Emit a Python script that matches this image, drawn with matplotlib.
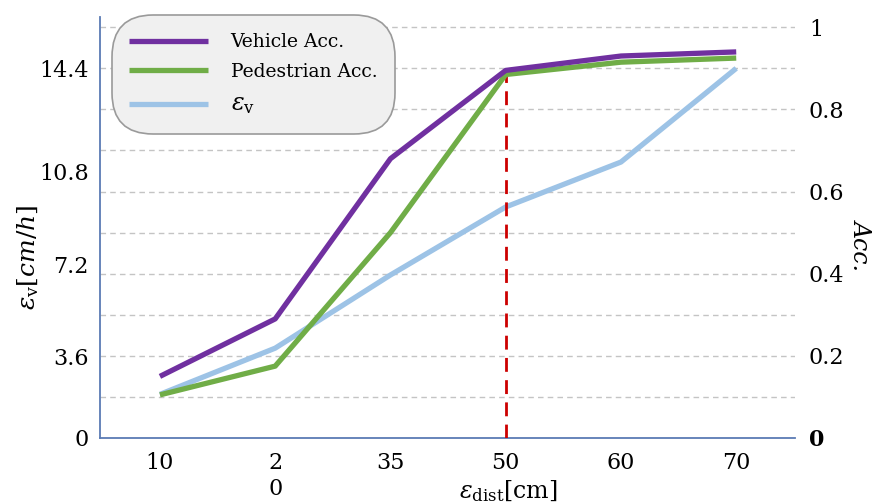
import numpy as np
import matplotlib
matplotlib.use("Agg")
import matplotlib.pyplot as plt
from matplotlib.transforms import ScaledTranslation

plt.rcParams['font.family'] = ['DejaVu Serif']
plt.rcParams['mathtext.fontset'] = 'dejavuserif'

# ---- data ----
dist_labels = ["10", "2\n0", "35", "50", "60", "70"]
vehicle_acc = [0.15, 0.29, 0.68, 0.895, 0.93, 0.94]
pedestrian_acc = [0.105, 0.175, 0.50, 0.885, 0.915, 0.925]
eps_v = [1.7, 3.5, 6.35, 9.0, 10.75, 14.4]
left_ticks = [0, 3.6, 7.2, 10.8, 14.4]
left_ticklabels = ["0", "3.6", "7.2", "10.8", "14.4"]
right_ticks = [0, 0.2, 0.4, 0.6, 0.8, 1.0]
right_ticklabels = ["0", "0.2", "0.4", "0.6", "0.8", "1"]
grid_vals = [0.1, 0.2, 0.3, 0.4, 0.5, 0.6, 0.7, 0.8, 0.9, 1.0]
marked_index = 3

C_VEH = "#7030a0"
C_PED = "#70ad47"
C_EPS = "#9dc3e6"
C_RED = "#cc0000"
C_SPINE = "#5b7bb4"

fig = plt.figure(figsize=(8.78, 5.04), dpi=100)
ax = fig.add_axes([100/878, 66/504, 695/878, 421/504])
ax2 = ax.twinx()

x = np.arange(len(dist_labels))
ratio = 16.0
ax2.set_ylim(0, 1.025)
ax.set_ylim(0, 1.025 * ratio)
ax.set_xlim(-0.52, 5.51)

# grid (drawn on left axis so it stays beneath all lines)
for g in grid_vals:
    ax.axhline(g * ratio, color="#c4c4c4", lw=1.0, ls=(0, (4, 3)), zorder=0)

l3, = ax.plot(x, eps_v, color=C_EPS, lw=3.8, solid_capstyle="butt", zorder=3)
ax2.vlines(x[marked_index], 0, vehicle_acc[marked_index], colors=C_RED,
           lw=2.0, linestyles=(0, (5, 3)), zorder=2)
l2, = ax2.plot(x, pedestrian_acc, color=C_PED, lw=3.8, solid_capstyle="butt", zorder=3)
l1, = ax2.plot(x, vehicle_acc, color=C_VEH, lw=3.8, solid_capstyle="butt", zorder=4)

# spines
for a in (ax, ax2):
    for s in a.spines.values():
        s.set_visible(False)
ax.spines["left"].set_visible(True)
ax.spines["bottom"].set_visible(True)
ax.spines["left"].set_color(C_SPINE)
ax.spines["bottom"].set_color(C_SPINE)
ax.spines["left"].set_linewidth(1.3)
ax.spines["bottom"].set_linewidth(1.3)

ax.set_xticks(x)
ax.set_xticklabels(dist_labels, fontsize=16, linespacing=1.25)
ax.set_yticks(left_ticks)
ax.set_yticklabels(left_ticklabels, fontsize=16)
ax2.set_yticks(right_ticks)
ax2.set_yticklabels(right_ticklabels, fontsize=16)
ax.tick_params(axis="both", length=0)
ax.tick_params(axis="x", pad=10)
ax.tick_params(axis="y", pad=8)
ax2.tick_params(axis="y", length=0, pad=10)
for lbl in ax2.get_yticklabels():
    if lbl.get_text() == "0":
        lbl.set_fontweight("bold")

# the middle left tick labels sit slightly lower in the reference
shift = ScaledTranslation(0, -11 / 100, fig.dpi_scale_trans)
for tick, txt in zip(ax.yaxis.get_major_ticks(), left_ticklabels):
    if txt in ("3.6", "7.2", "10.8"):
        tick.label1.set_transform(tick.label1.get_transform() + shift)

ax.set_xlabel(r"$\varepsilon_{\rm dist}$[cm]", fontsize=17)
ax.xaxis.set_label_coords(0.587, -0.095)
ax.set_ylabel(r"$\varepsilon_{\rm v}$$[cm/h]$", fontsize=18)
ax.yaxis.set_label_coords(-0.085, 0.43)
ax2.set_ylabel("Acc.", fontsize=17, style="italic", rotation=-90)
ax2.yaxis.set_label_coords(1.112, 0.46)

leg = ax2.legend([l1, l2, l3],
                 ["Vehicle Acc.", "Pedestrian Acc.", r"$\varepsilon_{\rm v}$"],
                 loc="upper left", bbox_to_anchor=(0.022, 0.995),
                 fontsize=13.5, handlelength=4.2, handletextpad=1.2,
                 labelspacing=0.62, borderpad=0.75, borderaxespad=0.0,
                 fancybox=True, framealpha=1.0)
leg.get_texts()[2].set_fontsize(17)
frame = leg.get_frame()
frame.set_facecolor("#f0f0f0")
frame.set_edgecolor("#9a9a9a")
frame.set_linewidth(1.2)
frame.set_boxstyle("round,pad=0.2,rounding_size=2.2")
leg.set_zorder(10)

fig.savefig("out.png", dpi=100)
